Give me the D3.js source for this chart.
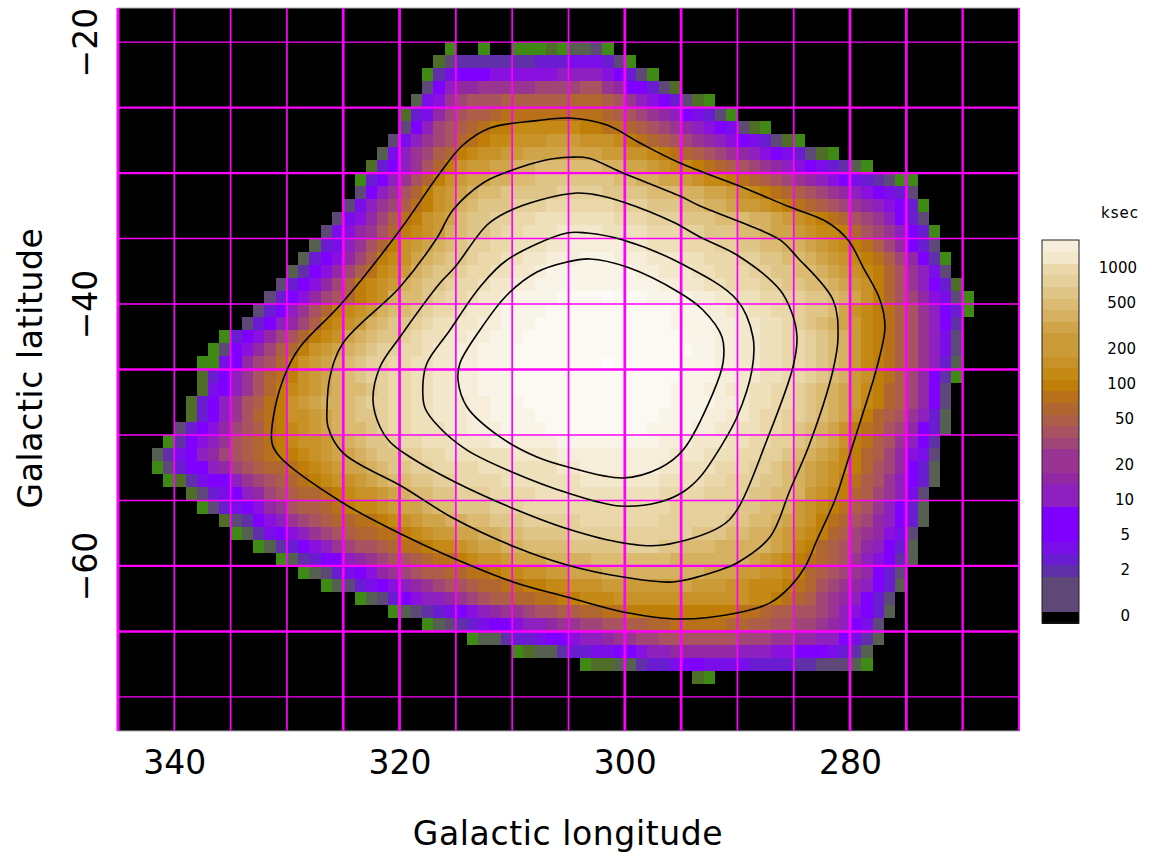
<!DOCTYPE html>
<html>
<head>
<meta charset="utf-8">
<title>Galactic exposure map</title>
<script src="https://cdn.jsdelivr.net/npm/d3@7"></script>
<style>
  html, body { margin: 0; padding: 0; background: #fff; }
  text { font-family: "DejaVu Sans", sans-serif; fill: #000; }
</style>
</head>
<body>
<div id="chart"></div>
<script>
// 1 - Data
// one character per 1x1 degree cell, "." = no exposure
const levelCodes = "0123456789abcdefghijklmnopqrstuvwx".split("");
const levelColors = [
  "#000000", "#3e8a14", "#4e6e28", "#566050", "#5e4878", "#5f30a8", "#6a1cd0", "#7a0ee8", "#7f00ff",
  "#8a10e0", "#8f20c0", "#9228a4", "#9a3492", "#a04578", "#a85262", "#ac5e48", "#b06630", "#b8701a",
  "#be7e08", "#c48a15", "#c89228", "#cb9b38", "#d0a54a", "#d5b060", "#dbba72", "#e0c588", "#e5cf9a",
  "#ead8aa", "#efe0bc", "#f3e8cc", "#f6eedb", "#f9f4e8", "#fcf9f3", "#fefcfa"
];

const firstLat = -20;
const rowStartLon = [
  316, 317, 318, 318, 319, 320, 320, 321, 322, 323, 324, 324, 325, 326, 327, 328, 329,
  330, 331, 332, 333, 334, 336, 337, 338, 338, 338, 339, 339, 340, 341, 342, 342,
  341, 339, 338, 336, 335, 333, 331, 329, 327, 324, 321, 318, 314, 310, 304, 294
];
const rowCodes = [
  "1..1..111213341",
  "245555555666777641",
  "157888999999aaaa98641",
  "48abbcccccddddeecb88642",
  "379cdeeeffffffgggfeca986421",
  "267bdeffghhhhhhhhhgfedcba87641",
  "48adefghiijjjjjjiihhgfedcba987421",
  "47acdeghijjkkklllkkkjihgfedcba9876421",
  "37acdfgijkkllmmmmmmmllkkjihgfedcba9876421",
  "268acegikllmmnnoooooonnmmlkjjihgfedcba9876531",
  "168acegiklmmnnoopppppppoonnmmlkjjihgfedcba98765411",
  "48acegiklmnoopppppqqqqppppooonnmmlkjihgfedcba98764",
  "47acdfhiklnopppqqqrrrrrrqqqpppoonnmllkjihgfedcba9861",
  "479bdfhiklmoppqqrrsssssssrrrqqqpppooonnmlkjihgedca864",
  "479bcegijklnoppqrrsssttttssssrrrqqpppoonmmlkjjigedca861",
  "367acegiklmnopqqrrsssttuuuuuttsssrrrqqppoonnmlkjihfdb864",
  "3689bdfijkmnoppqrrssttuuuvvvuuutttssrrrqqppoonmlkjihfdb851",
  "3589bdfhjklnoppqrrssttuvvvvvvvvuutttssrrrqqppoonmlkjigeca74",
  "4689bdfijklnoppqrrsttuuvvvvvvvvvvvuuttssrrrqqppoonmlkigeca862",
  "4689bdegijknoopqrrsttuvvvvwwwwxwwwvvvvuuttssrrqqpponmkigedb9741",
  "468acegijklnoopqrrsttuvvvvwwwwwwwwwwwvvvuuttssrrqppomkjihfeca861",
  "468abdfijklnoppqrssttuuvvvwwwwwwwwwwwwvvvvuuttssrqponmljihfeca85",
  "1689bdegijkmnoppqrssttuuvvvwwwwwwwwwwwwwwvvvuuttssrrqponljihfeca74",
  "1489bdfgiklmnopqqrrsttuuvvvwwwwwwwwwwwwwwwwvvuuttssrrqponljihfeca74",
  "1178bdegiklmnopqqrrssttuuvvvwwwwwwwwxwwwwwwvvvuuttssrrqponljihfeca63",
  "268aceghiklmnopqqrrssttuuvvvwwwwwwwwwwwwwwwvvvuuttssrrqponlkihfdb851",
  "278acegijklmnoopqrrssttuuvvvwwwwwwwwwwwwwwvvvuuttssrrqponmljigfdb84",
  "268acefhiklmnnopqqrrsstttuuvvvwwwwwwwwwwwwwvvvvuutssrrqponmljigfdb84",
  "268aceghikklmnoppqrrsstttuuvvvvwwwwwwwwwwwvvvvuuttsrrqqponmkigfeca63",
  "4689bdefhijklmnoopqrrsssttuuuvvvvwwwwwwwwwvvvvuuttssrrqponmkihgedb863",
  "1589acefghijkklmnoppqrrsssttt" + "uuuuuuvvvvvvvvvuuutttssrrqqponmkihfeca85",
  "3578abdefghiijklmmnoppqqrrssssssttttuuuuuuuuuutttsssrrqqponmljigfdb974",
  "14688abdefgghijklmmnoppqqrrrrsssssssttuuuuuuuttsssrrrqqponmlkjigedb863",
  "125788acdefghijkklmnooppqqrrrrsssssssttttttt" + "ssssrrqqqpponmlkihfeca863",
  "24678abdefgghijkklmnooppqqqrrrrsssssssssssrrrrqqqqppoonlkjigfdca74",
  "146789bceffghijjklmmnoopppqqqrrrrrrrrrrrrrqqqqqqppoonlkjihfeca863",
  "24589acdefgghhijklmmnnoopppqqqqqrrrrrrrqqqqqqppoonmlkihgedba863",
  "135789acdefgghhijkllmmnnooppppqqqqqqqqqqqpppoonnmlkjigfdcb974",
  "135689acdeefghhijjklmmnnoooopppppqqqppooonnnnnmljigfedba863",
  "135688abcdeefghhijkklmmmnnnnooooooonnnnnnnmlkjihgfeca9853",
  "1346789bcdeffgghhijjkkllmmmnnnnnnnnnmmmllkkjigfedcb864",
  "1346789abcdeefgghhiijjkkklllllllmlllkkjjjihgedcba863",
  "134689aabcdeffgghhiijjjkkkkkkkkkkkkjjihgfdcba864",
  "13456789abccdeeffgghhiiiiiiiiiihhgffeedca9863",
  "134567889aabccddeeffgghhhhhggffeeddcba874",
  "1335667889aabccddeeeeeeedddccbbaa8753",
  "123356677889aabbbbbbaaa998887653",
  "12233566788777766665544431",
  "21"
];

// contours, read as [longitude, latitude]
const contour1 = [[305.04, -25.8], [307.8, -26.0], [311.97, -26.56], [314.37, -27.86], [316.41, -30.0], [319.96, -34.35], [325.11, -39.92], [328.84, -43.28], [330.0, -45.04], [331.06, -47.94], [331.33, -50.61], [330.62, -51.68], [325.02, -55.19], [319.7, -57.63], [315.26, -59.39], [309.93, -61.22], [305.13, -62.37], [300.16, -63.51], [295.1, -64.05], [290.04, -63.59], [287.11, -62.82], [285.33, -61.6], [284.0, -60.08], [282.94, -58.02], [281.34, -54.96], [280.18, -51.91], [278.85, -48.32], [277.61, -44.81], [276.9, -41.76], [277.34, -39.69], [278.85, -37.18], [280.18, -35.11], [282.05, -33.74], [285.33, -32.6], [290.04, -30.92], [295.1, -29.24], [298.65, -27.71], [301.58, -26.34]];
const contour2 = [[304.87, -28.8], [307.0, -29.0], [310.46, -29.92], [312.59, -30.76], [315.26, -32.82], [316.68, -34.96], [319.96, -38.7], [325.02, -42.98], [326.18, -45.57], [326.44, -47.94], [326.35, -49.39], [325.02, -51.37], [319.7, -53.97], [315.26, -56.34], [309.75, -58.55], [305.13, -59.92], [300.16, -60.84], [295.72, -61.22], [291.55, -60.31], [290.04, -59.77], [287.11, -57.79], [285.33, -54.2], [283.56, -50.61], [281.51, -45.04], [281.07, -42.52], [281.51, -39.69], [284.71, -36.41], [286.22, -35.11], [289.51, -33.82], [293.32, -32.52], [295.1, -31.76], [300.16, -30.0], [303.27, -28.85]];
const contour3 = [[304.25, -31.53], [307.53, -32.06], [310.46, -32.98], [312.24, -33.97], [315.08, -37.18], [316.41, -38.4], [319.96, -42.52], [321.74, -44.81], [322.36, -47.33], [321.74, -49.39], [320.85, -50.53], [319.07, -51.68], [315.08, -53.59], [310.02, -55.57], [305.04, -57.18], [300.16, -58.24], [296.61, -58.4], [291.55, -57.02], [290.04, -55.73], [287.38, -50.38], [285.07, -44.81], [284.71, -42.52], [285.16, -40.69], [286.22, -38.93], [290.04, -36.26], [293.32, -34.89], [295.72, -33.74], [300.16, -32.21], [302.47, -31.68]];
const contour4 = [[303.36, -34.58], [305.13, -34.58], [310.46, -36.64], [312.86, -38.7], [315.52, -41.98], [317.56, -44.5], [317.92, -46.03], [317.74, -47.94], [316.41, -49.47], [314.01, -51.15], [310.02, -52.82], [305.04, -54.43], [300.43, -55.42], [296.88, -55.11], [294.83, -54.35], [293.32, -53.21], [291.28, -50.61], [290.04, -48.63], [288.71, -45.04], [288.62, -42.52], [290.04, -39.69], [295.1, -36.87], [300.16, -35.11]];
const contour5 = [[303.09, -36.56], [305.13, -36.79], [307.8, -37.56], [310.46, -39.31], [312.86, -41.98], [314.63, -44.5], [314.81, -45.8], [314.01, -47.86], [311.08, -50.15], [307.8, -51.68], [305.04, -52.44], [300.16, -53.28], [296.88, -52.52], [294.83, -51.15], [292.17, -46.8], [291.28, -44.5], [291.37, -42.52], [293.06, -40.46], [295.1, -39.16], [299.81, -37.18]];

// axes and legend
const lonTicks = [340, 320, 300, 280];
const latTicks = [-20, -40, -60];
const gridLons = d3.range(345, 264, -5);
const gridLats = d3.range(-20, -71, -5);
const legendBands = "0444567888aabccdefghijkllmnopqrtu".split("");
const legendTickBands = [0, 4, 7, 10, 13, 17, 20, 23, 27, 30];
const legendTickLabels = ["0", "2", "5", "10", "20", "50", "100", "200", "500", "1000"];

// 2 - Scales and page
const width = 1155, height = 856;
const plot = { left: 118, right: 1019, top: 8, bottom: 731 };

const x = d3.scaleLinear().domain([345, 265]).range([plot.left, plot.right]);
const y = d3.scaleLinear().domain([-17.4, -72.6]).range([plot.top, plot.bottom]);
const color = d3.scaleOrdinal().domain(levelCodes).range(levelColors);

const svg = d3.select("#chart").append("svg")
  .attr("width", width)
  .attr("height", height)
  .style("display", "block");

// black background of the map
svg.append("rect")
  .attr("x", plot.left).attr("y", plot.top)
  .attr("width", plot.right - plot.left).attr("height", plot.bottom - plot.top)
  .attr("fill", "#000")
  .attr("stroke", "#b0b0b0");

// 3 - Cells
const cells = [];
rowCodes.forEach((row, r) => {
  row.split("").forEach((code, c) => {
    if (code !== ".") cells.push({ lon: rowStartLon[r] - c, lat: firstLat - r, code: code });
  });
});

svg.append("g")
  .attr("shape-rendering", "crispEdges")
  .selectAll("rect")
  .data(cells)
  .join("rect")
  .attr("x", d => Math.round(x(d.lon)))
  .attr("y", d => Math.round(y(d.lat)))
  .attr("width", d => Math.round(x(d.lon - 1)) - Math.round(x(d.lon)))
  .attr("height", d => Math.round(y(d.lat - 1)) - Math.round(y(d.lat)))
  .attr("fill", d => color(d.code));

// 4 - Magenta grid, the line weights vary in the original
const lonWeights = [3, 1.7, 1.7, 1.7, 2.7, 2.7, 1.7, 1.7, 1.7, 2.7, 2.7, 1.7, 1.7, 2.7, 2.7, 2.3, 2];
const latWeights = [1.3, 2.3, 2.3, 1.3, 1.3, 2.7, 1.3, 1.3, 2.3, 2.5, 1.3];

svg.append("g").selectAll("line")
  .data(gridLons)
  .join("line")
  .attr("x1", d => x(d)).attr("x2", d => x(d))
  .attr("y1", plot.top).attr("y2", plot.bottom)
  .attr("stroke", "#ff00ff")
  .attr("stroke-width", (d, i) => lonWeights[i]);

svg.append("g").selectAll("line")
  .data(gridLats)
  .join("line")
  .attr("x1", plot.left).attr("x2", plot.right)
  .attr("y1", d => y(d)).attr("y2", d => y(d))
  .attr("stroke", "#ff00ff")
  .attr("stroke-width", (d, i) => latWeights[i]);

// 5 - Contours
const contourLine = d3.line()
  .x(d => x(d[0]))
  .y(d => y(d[1]))
  .curve(d3.curveCatmullRomClosed.alpha(0.5));

svg.append("g").selectAll("path")
  .data([contour1, contour2, contour3, contour4, contour5])
  .join("path")
  .attr("d", contourLine)
  .attr("fill", "none")
  .attr("stroke", "#000")
  .attr("stroke-width", 1.6);

// 6 - Axes
const xAxis = svg.append("g")
  .attr("transform", `translate(0,${plot.bottom})`)
  .call(d3.axisBottom(x).tickValues(lonTicks).tickSize(0).tickPadding(20).tickFormat(d3.format("d")));
xAxis.select(".domain").remove();
xAxis.selectAll("text")
  .style("font-family", '"DejaVu Sans", sans-serif')
  .style("font-size", "33px");

const yAxis = svg.append("g")
  .attr("transform", `translate(${plot.left},0)`)
  .call(d3.axisLeft(y).tickValues(latTicks).tickSize(0).tickFormat(d3.format("d")));
yAxis.select(".domain").remove();
yAxis.selectAll("text")
  .attr("x", 0)
  .attr("dy", 0)
  .attr("transform", "translate(-21,0) rotate(-90)")
  .attr("text-anchor", "middle")
  .style("font-family", '"DejaVu Sans", sans-serif')
  .style("font-size", "33px");

svg.append("text")
  .attr("x", 568).attr("y", 845)
  .attr("text-anchor", "middle")
  .style("font-size", "33px")
  .style("letter-spacing", "0.6px")
  .text("Galactic longitude");

svg.append("text")
  .attr("transform", "translate(42,368) rotate(-90)")
  .attr("text-anchor", "middle")
  .style("font-size", "33px")
  .style("letter-spacing", "0.6px")
  .text("Galactic latitude");

// 7 - Colour bar
const legendY = d3.scaleBand()
  .domain(d3.range(legendBands.length))
  .range([623, 240]);

const legend = svg.append("g");

legend.append("g")
  .attr("shape-rendering", "crispEdges")
  .selectAll("rect")
  .data(legendBands)
  .join("rect")
  .attr("x", 1042)
  .attr("y", (d, i) => legendY(i))
  .attr("width", 37)
  .attr("height", legendY.bandwidth() + 0.5)
  .attr("fill", d => color(d));

legend.append("rect")
  .attr("x", 1042).attr("y", 240)
  .attr("width", 37).attr("height", 383)
  .attr("fill", "none")
  .attr("stroke", "#222");

// the labels are neither centred nor flush right in the original
const labelEnd = { 1: 1130, 2: 1134, 3: 1136, 4: 1137 };

legend.selectAll("text.tick")
  .data(legendTickLabels)
  .join("text")
  .attr("class", "tick")
  .attr("x", d => labelEnd[d.length])
  .attr("y", (d, i) => legendY(legendTickBands[i]) + legendY.bandwidth() / 2 + 4)
  .attr("text-anchor", "end")
  .style("font-size", "15px")
  .text(d => d);

legend.append("text")
  .attr("x", 1120).attr("y", 218)
  .attr("text-anchor", "middle")
  .style("font-size", "15px")
  .style("letter-spacing", "1px")
  .text("ksec");
</script>
</body>
</html>
